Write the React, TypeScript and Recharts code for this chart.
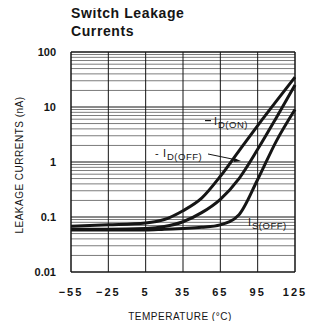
import { LineChart, Line, XAxis, YAxis, ReferenceLine } from "recharts";

const temps = [-55, -25, 5, 20, 35, 50, 65, 80, 95, 110, 125];
const idOn = [0.068, 0.072, 0.078, 0.09, 0.13, 0.22, 0.55, 1.6, 4.6, 12.8, 35];
const idOff = [0.06, 0.06, 0.062, 0.067, 0.082, 0.12, 0.21, 0.5, 1.7, 6.4, 25];
const isOff = [0.058, 0.058, 0.058, 0.06, 0.062, 0.065, 0.072, 0.11, 0.48, 2.4, 9];

const xTicks = [-55, -25, 5, 35, 65, 95, 125];
const xTickLabels = ["\u221255", "\u221225", "5", "35", "65", "95", "125"];
const yTicks = [0.01, 0.1, 1, 10, 100];
const yTickLabels = ["0.01", "0.1", "1", "10", "100"];
const decades = [0.01, 0.1, 1, 10];
const minorSteps = [2, 3, 4, 5, 6, 7, 8, 9];

const data = temps.map((t, i) => ({ t, idOn: idOn[i], idOff: idOff[i], isOff: isOff[i] }));
const minorLines = decades.flatMap((d) => minorSteps.map((m) => +(d * m).toPrecision(3)));

const INK = "#151515";
const FONT = "'Liberation Sans', Arial, sans-serif";

export default function App() {
  const yIndex = (v: number) => yTicks.findIndex((y) => Math.abs(y - v) < v * 1e-6);
  const xIndex = (v: number) => xTicks.indexOf(v);

  return (
    <div style={{ position: "relative", margin: -8, width: 314, height: 329, fontFamily: FONT, background: "#fff" }}>
      <LineChart width={314} height={329} data={data} margin={{ top: 52, right: 19, left: 31, bottom: 27 }}>
        {minorLines.map((v) => (
          <ReferenceLine key={`m${v}`} y={v} stroke="#5a5a5a" strokeWidth={0.8} ifOverflow="hidden" />
        ))}
        {[0.1, 1, 10].map((v) => (
          <ReferenceLine key={`M${v}`} y={v} stroke={INK} strokeWidth={1} />
        ))}
        {[-25, 5, 35, 65, 95].map((v) => (
          <ReferenceLine key={`v${v}`} x={v} stroke={INK} strokeWidth={1} />
        ))}
        <ReferenceLine y={100} stroke={INK} strokeWidth={1.5} />
        <ReferenceLine x={125} stroke={INK} strokeWidth={1.5} />
        <XAxis
          dataKey="t"
          type="number"
          domain={[-55, 125]}
          ticks={xTicks}
          tickLine={false}
          tickMargin={10}
          height={30}
          axisLine={{ stroke: INK, strokeWidth: 1.5 }}
          tickFormatter={(v: number) => xTickLabels[xIndex(v)] ?? String(v)}
          tick={{ fill: INK, fontSize: 11, fontWeight: 700, fontFamily: FONT, letterSpacing: 2 }}
        />
        <YAxis
          scale="log"
          domain={[0.01, 100]}
          ticks={yTicks}
          allowDataOverflow
          width={40}
          tickLine={false}
          tickMargin={9}
          axisLine={{ stroke: INK, strokeWidth: 1.5 }}
          tickFormatter={(v: number) => yTickLabels[yIndex(v)] ?? String(v)}
          tick={{ fill: INK, fontSize: 11, fontWeight: 700, fontFamily: FONT }}
        />
        <Line type="monotone" dataKey="idOn" stroke={INK} strokeWidth={3} dot={false} isAnimationActive={false} />
        <Line type="monotone" dataKey="idOff" stroke={INK} strokeWidth={3} dot={false} isAnimationActive={false} />
        <Line type="monotone" dataKey="isOff" stroke={INK} strokeWidth={3} dot={false} isAnimationActive={false} />
      </LineChart>

      <svg width={314} height={329} style={{ position: "absolute", left: 0, top: 0, pointerEvents: "none" }}>
        <g fill={INK} fontFamily={FONT} fontWeight={700}>
          <text x={71} y={18} fontSize={14} letterSpacing={0.6}>Switch Leakage</text>
          <text x={71} y={36} fontSize={14} letterSpacing={0.6}>Currents</text>
        </g>
        <g fill={INK} fontFamily={FONT} fontSize={10}>
          <text x={20} y={165} transform="rotate(-90 20 165)" textAnchor="middle" dominantBaseline="middle" letterSpacing={0.5}>
            LEAKAGE CURRENTS (nA)
          </text>
          <text x={180} y={317} textAnchor="middle" dominantBaseline="middle" letterSpacing={0.5}>
            TEMPERATURE (°C)
          </text>
        </g>
        <g fill={INK} fontFamily={FONT}>
          <rect x={205} y={120} width={6} height={1.2} />
          <text x={214} y={125} fontSize={11}>I</text>
          <text x={218} y={128} fontSize={9.5} letterSpacing={0.5}>D(ON)</text>

          <text x={155} y={157} fontSize={11}>-</text>
          <text x={163} y={157} fontSize={11}>I</text>
          <text x={167} y={160} fontSize={9.5} letterSpacing={0.5}>D(OFF)</text>

          <text x={248} y={226} fontSize={11}>I</text>
          <text x={252} y={229} fontSize={9.5} letterSpacing={0.5}>S(OFF)</text>
        </g>
        <line x1={208} y1={154} x2={237} y2={160} stroke={INK} strokeWidth={1} />
        <path d="M241 161 L233 157.5 L234 162 Z" fill={INK} />
      </svg>
    </div>
  );
}
